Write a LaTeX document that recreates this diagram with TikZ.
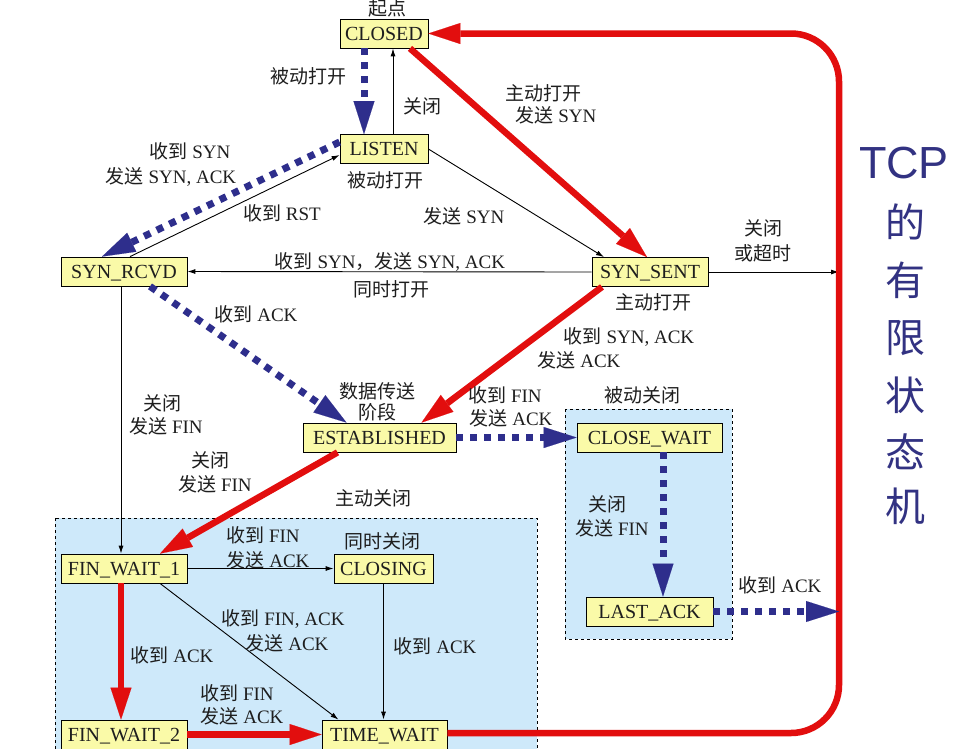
\documentclass[tikz,border=0pt]{standalone}
\usepackage{fontspec}
\setmainfont{Liberation Serif}
\newfontfamily\cjk{Noto Sans CJK SC}
\newfontfamily\titlesans{Liberation Sans}
\usetikzlibrary{arrows.meta}
\definecolor{statefill}{RGB}{250,250,168}
\definecolor{regionc}{RGB}{206,233,250}
\definecolor{redc}{RGB}{226,14,14}
\definecolor{bluec}{RGB}{46,46,140}
\definecolor{titlec}{RGB}{50,50,130}
\definecolor{textc}{RGB}{30,30,30}
\newcommand\zh[1]{{\cjk #1}}
\begin{document}
\begin{tikzpicture}[x=1pt,y=-1pt,
  stbox/.style={draw=black, line width=0.8pt, fill=statefill, minimum height=29pt, inner sep=0pt,
    text height=13.5pt, text depth=0pt, text=textc, font=\fontsize{20}{24}\selectfont},
  lbl/.style={inner sep=0pt, text=textc, text height=14pt, text depth=3pt, font=\fontsize{19}{23}\selectfont},
  ttl/.style={inner sep=0pt, text=titlec, font=\fontsize{40}{44}\selectfont\cjk},
  thinarr/.style={draw=black, line width=0.9pt, -{Latex[length=8pt,width=5pt]}},
  redarr/.style={draw=redc, line width=6.5pt, -{Triangle[length=32pt,width=21pt,line width=0.1pt]}},
  bluearr/.style={draw=bluec, line width=7pt, dash pattern=on 7pt off 7pt, -{Triangle[length=33pt,width=21pt,line width=0.1pt]}},
  region/.style={draw=black, dashed, line width=0.7pt, fill=regionc}]
\useasboundingbox (0,0) rectangle (961,748);
\fill[white] (0,0) rectangle (961,748);
% regions
\draw[region] (55,518) rectangle (537,770);
\draw[region] (565,409) rectangle (732,639);
% states
\node[stbox, minimum width=88pt]  (closed) at (384,33.5) {CLOSED};
\node[stbox, minimum width=88pt]  (listen) at (384,149) {LISTEN};
\node[stbox, minimum width=126pt] (synrcvd) at (124,271.5) {SYN\_RCVD};
\node[stbox, minimum width=116pt] (synsent) at (650,272) {SYN\_SENT};
\node[stbox, minimum width=153pt] (estab) at (379.5,437.5) {ESTABLISHED};
\node[stbox, minimum width=145pt] (closewait) at (649.5,437.5) {CLOSE\_WAIT};
\node[stbox, minimum width=127pt] (lastack) at (649.5,611.5) {LAST\_ACK};
\node[stbox, minimum width=126pt] (fw1) at (124,568.5) {FIN\_WAIT\_1};
\node[stbox, minimum width=99pt]  (closing) at (383.5,568.5) {CLOSING};
\node[stbox, minimum width=126pt] (fw2) at (124,734.5) {FIN\_WAIT\_2};
\node[stbox, minimum width=125pt] (timewait) at (384.5,734.5) {TIME\_WAIT};
\coordinate (loopR) at (839,400);
% thin connectors
\draw[thinarr] ([xshift=9pt]listen.north) -- ([xshift=9pt]closed.south);
\draw[thinarr] ([xshift=6pt]synrcvd.north) -- ([yshift=-6pt]listen.west);
\draw[thinarr] (listen.east) -- ([xshift=-46pt]synsent.north);
\draw[thinarr] (synsent.west) -- (synrcvd.east);
\draw[thinarr] (synsent.east) -- (synsent.east -| loopR);
\draw[thinarr] ([xshift=-3pt]synrcvd.south) -- ([xshift=-3pt]fw1.north);
\draw[thinarr] (fw1.east) -- (closing.west);
\draw[thinarr] ([xshift=36pt]fw1.south) -- ([xshift=-46pt]timewait.north);
\draw[thinarr] (closing.south) -- (closing.south |- timewait.north);
% red connectors
\draw[redarr] ([xshift=26pt]closed.south) -- ([xshift=-3pt]synsent.north);
\draw[redarr] ([xshift=-48pt]synsent.south) -- ([xshift=42pt]estab.north);
\draw[redarr] ([xshift=-42pt]estab.south) -- ([xshift=36pt]fw1.north);
\draw[redarr] ([xshift=-3pt]fw1.south) -- ([xshift=-3pt]fw2.north);
\draw[redarr] (fw2.east) -- (timewait.west);
\draw[redarr, rounded corners=48pt] ([yshift=1.5pt]timewait.east) -- ([yshift=1.5pt]timewait.east -| loopR) -- (closed.east -| loopR) -- (closed.east);
% blue connectors
\draw[bluearr] ([xshift=-20pt]closed.south) -- ([xshift=-20pt]listen.north);
\draw[bluearr] ([yshift=7pt]listen.west) -- ([xshift=-22pt]synrcvd.north);
\draw[bluearr] ([xshift=26pt]synrcvd.south) -- ([xshift=-33pt]estab.north);
\draw[bluearr] (estab.east) -- (closewait.west);
\draw[bluearr] ([xshift=13.5pt]closewait.south) -- ([xshift=13.5pt]lastack.north);
\draw[bluearr] (lastack.east) -- (lastack.east -| loopR);
% labels
\node[lbl] (l1) at (387,10) {\zh{起点}};
\node[lbl] (l2) at (308,78) {\zh{被动打开}};
\node[lbl] (l3) at (422,108) {\zh{关闭}};
\node[lbl] (l4) at (543,95) {\zh{主动打开}};
\node[lbl] (l5) at (556,117) {\zh{发送} SYN};
\node[lbl] (l6) at (190,153) {\zh{收到} SYN};
\node[lbl] (l7) at (171,178) {\zh{发送} SYN, ACK};
\node[lbl] (l8) at (385,182) {\zh{被动打开}};
\node[lbl] (l9) at (282,215) {\zh{收到} RST};
\node[lbl] (l10) at (464,218) {\zh{发送} SYN};
\node[lbl] (l11) at (763,230) {\zh{关闭}};
\node[lbl] (l12) at (763,255) {\zh{或超时}};
\node[lbl] (l13) at (390,263) {\zh{收到} SYN\zh{，发送} SYN, ACK};
\node[lbl] (l14) at (391,291) {\zh{同时打开}};
\node[lbl] (l15) at (653,304) {\zh{主动打开}};
\node[lbl] (l16) at (256,316) {\zh{收到} ACK};
\node[lbl] (l17) at (629,338) {\zh{收到} SYN, ACK};
\node[lbl] (l18) at (579,362) {\zh{发送} ACK};
\node[lbl] (l19) at (377,393) {\zh{数据传送}};
\node[lbl] (l20) at (377,414) {\zh{阶段}};
\node[lbl] (l21) at (505,397) {\zh{收到} FIN};
\node[lbl] (l22) at (511,420) {\zh{发送} ACK};
\node[lbl] (l23) at (642,397) {\zh{被动关闭}};
\node[lbl] (l24) at (162,405) {\zh{关闭}};
\node[lbl] (l25) at (166,428) {\zh{发送} FIN};
\node[lbl] (l26) at (210,462) {\zh{关闭}};
\node[lbl] (l27) at (215,486) {\zh{发送} FIN};
\node[lbl] (l28) at (373,500) {\zh{主动关闭}};
\node[lbl] (l29) at (263,537) {\zh{收到} FIN};
\node[lbl] (l30) at (268,562) {\zh{发送} ACK};
\node[lbl] (l31) at (382,543) {\zh{同时关闭}};
\node[lbl] (l32) at (607,506) {\zh{关闭}};
\node[lbl] (l33) at (612,530) {\zh{发送} FIN};
\node[lbl] (l34) at (780,587) {\zh{收到} ACK};
\node[lbl] (l35) at (283,620) {\zh{收到} FIN, ACK};
\node[lbl] (l36) at (287,645) {\zh{发送} ACK};
\node[lbl] (l37) at (172,657) {\zh{收到} ACK};
\node[lbl] (l38) at (435,648) {\zh{收到} ACK};
\node[lbl] (l39) at (237,695) {\zh{收到} FIN};
\node[lbl] (l40) at (242,718) {\zh{发送} ACK};
% title
\node[inner sep=0pt, text=titlec, font=\fontsize{45}{50}\selectfont\titlesans] (t0) at (904,163) {TCP};
\node[ttl] (t1) at (905,222) {的};
\node[ttl] (t2) at (905,280) {有};
\node[ttl] (t3) at (905,338) {限};
\node[ttl] (t4) at (905,395) {状};
\node[ttl] (t5) at (905,452) {态};
\node[ttl] (t6) at (905,506) {机};
\end{tikzpicture}
\end{document}
